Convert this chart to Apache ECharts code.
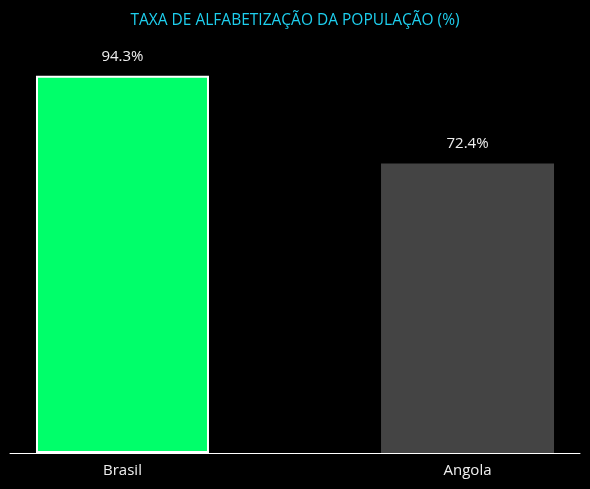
<!DOCTYPE html>
<html><head><meta charset="utf-8">
<script src="https://cdn.jsdelivr.net/npm/echarts@6/dist/echarts.min.js"></script>
<style>html,body{margin:0;padding:0;background:#000;}#c{width:590px;height:489px;}</style>
</head><body><div id="c"></div>
<script>
const categories = ['Brasil', 'Angola'];
const values = [94.3, 72.4];
const barColors = ['#00ff6a', '#444444'];
const titleText = 'TAXA DE ALFABETIZAÇÃO DA POPULAÇÃO (%)';

const chart = echarts.init(document.getElementById('c'));
const FONT = '"Open Sans", Roboto, sans-serif';
chart.setOption({
  backgroundColor: '#000',
  animation: false,
  title: {
    text: titleText, left: 'center', top: 8,
    textStyle: { color: '#1ecfee', fontSize: 15.5, fontWeight: 'normal', fontFamily: FONT }
  },
  grid: { left: 10, right: 10, top: 53, bottom: 36 },
  xAxis: {
    type: 'value', min: -0.326, max: 1.326,
    splitLine: { show: false },
    axisTick: { show: false },
    axisLine: { show: true, onZero: false, lineStyle: { color: '#ffffff', width: 1 } },
    axisLabel: {
      customValues: categories.map((c, i) => i),
      formatter: v => categories[Math.round(v)] || '',
      color: '#eeeeee', fontSize: 15, fontFamily: FONT, margin: 10
    }
  },
  yAxis: { type: 'value', min: 0, max: 100, show: false, splitLine: { show: false } },
  series: [{
    type: 'bar',
    barWidth: 173,
    data: values.map((v, i) => ({
      value: [i, v],
      itemStyle: i === 0
        ? { color: barColors[i], borderColor: '#ffffff', borderWidth: 2 }
        : { color: barColors[i] }
    })),
    label: {
      show: true, position: 'top', distance: 12,
      formatter: p => p.value[1].toFixed(1) + '%',
      color: '#eeeeee', fontSize: 15, fontFamily: FONT
    }
  }]
});
</script></body></html>
